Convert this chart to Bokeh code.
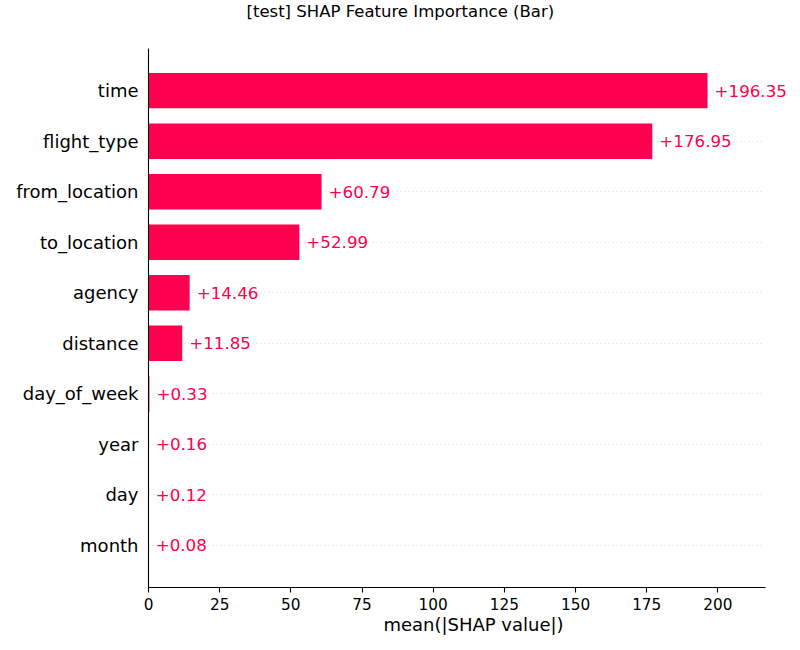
from bokeh.plotting import figure
from bokeh.models import FactorRange, Range1d, ColumnDataSource, LabelSet, FixedTicker, Title
from bokeh.core.properties import value
from bokeh.embed import file_html
from bokeh.resources import INLINE

# ---- data (top to bottom as shown) ----
features = ["time", "flight_type", "from_location", "to_location", "agency",
            "distance", "day_of_week", "year", "day", "month"]
values = [196.35, 176.95, 60.79, 52.99, 14.46, 11.85, 0.33, 0.16, 0.12, 0.08]
x_ticks = [0, 25, 50, 75, 100, 125, 150, 175, 200]
title_text = "[test] SHAP Feature Importance (Bar)"
x_label = "mean(|SHAP value|)"

RED = "#ff0051"
FONT = "DejaVu Sans"

AXIS_END = 216.6   # visible end of the x axis line
VIEW_END = 228.3   # extra room on the right so value labels are not clipped

feat_bu = features[::-1]
vals_bu = values[::-1]
labels_bu = ["+%.2f" % v for v in vals_bu]

src = ColumnDataSource(dict(feature=feat_bu, value=vals_bu, label=labels_bu))

p = figure(width=800, height=650,
           y_range=FactorRange(factors=feat_bu, range_padding=0.335,
                               range_padding_units="absolute"),
           x_range=Range1d(0, VIEW_END),
           output_backend="svg", toolbar_location=None,
           min_border_left=148, min_border_right=2,
           min_border_top=48, min_border_bottom=63,
           title=title_text)

p.outline_line_color = None
p.background_fill_color = "white"
p.border_fill_color = "white"

# title
p.title.text_font = FONT
p.title.text_font_size = "16.5px"
p.title.text_font_style = "normal"
p.title.text_color = "black"
p.title.align = "left"
p.title.offset = 98
p.title.standoff = 0
p.title.vertical_align = "top"

# empty spacer between the title and the plot area (pushes the title up)
p.add_layout(Title(text=" ", text_font_size="1px", standoff=23), "above")

# grid
p.xgrid.grid_line_color = None
g = p.ygrid[0]
g.grid_line_color = "#cccccc"
g.grid_line_width = 0.8
g.grid_line_dash = "1 3"
if "cross_bounds" in g.properties():
    g.cross_bounds = (0, AXIS_END - 1)

# bars
p.hbar(y="feature", right="value", left=0, height=0.7, source=src,
       fill_color=RED, line_color=None)

labels = LabelSet(x="value", y="feature", text="label", source=src,
                  x_offset=7, text_baseline="middle", text_align="left",
                  text_color=RED, text_font_size="16.7px",
                  text_font=value(FONT), level="overlay")
p.add_layout(labels)

# y axis
ya = p.yaxis[0]
ya.major_tick_line_color = None
ya.minor_tick_line_color = None
ya.major_tick_out = 0
ya.major_tick_in = 0
ya.major_label_standoff = 10
ya.major_label_text_font = FONT
ya.major_label_text_font_size = "18px"
ya.major_label_text_color = "black"
ya.axis_line_color = "black"
ya.axis_line_width = 1.1

# x axis
xa = p.xaxis[0]
xa.ticker = FixedTicker(ticks=x_ticks)
xa.bounds = (0, AXIS_END)
xa.minor_tick_line_color = None
xa.major_tick_in = 0
xa.major_tick_out = 5
xa.major_tick_line_color = "black"
xa.major_tick_line_width = 1.1
xa.major_label_standoff = 5
xa.major_label_text_font = FONT
xa.major_label_text_font_size = "15.3px"
xa.major_label_text_color = "black"
xa.axis_line_color = "black"
xa.axis_line_width = 1.1
xa.axis_label = x_label
xa.axis_label_text_font = FONT
xa.axis_label_text_font_size = "18px"
xa.axis_label_text_font_style = "normal"
xa.axis_label_text_color = "black"
xa.axis_label_standoff = 1

open("out.html", "w").write(file_html(p, INLINE))
